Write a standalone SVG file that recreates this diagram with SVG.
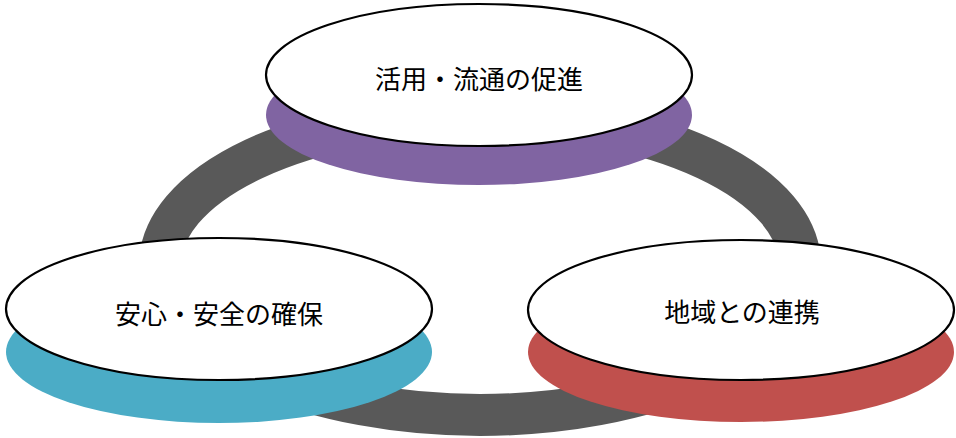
<svg xmlns="http://www.w3.org/2000/svg" width="956" height="438" viewBox="0 0 956 438">
  <style>
    .top { fill: #FFFFFF; stroke: #000000; stroke-width: 2.2; }
    .label { font-family: "Noto Sans CJK JP", "Noto Sans", sans-serif; font-size: 26px; fill: #000000; text-anchor: middle; dominant-baseline: central; }
    .ring { fill: none; stroke: #595959; stroke-width: 42; }
  </style>
  <rect width="956" height="438" fill="#FFFFFF"/>
  <g id="connectors">
    <ellipse class="ring" cx="480" cy="265" rx="320" ry="150"/>
  </g>
  <g id="node-top">
    <ellipse cx="479" cy="115" rx="213" ry="70" fill="#8064A2"/>
    <ellipse class="top" cx="479" cy="75" rx="213" ry="71"/>
    <text class="label" x="479" y="77">活用・流通の促進</text>
  </g>
  <g id="node-left">
    <ellipse cx="219" cy="352" rx="213" ry="71" fill="#4BACC6"/>
    <ellipse class="top" cx="219" cy="309" rx="213" ry="71"/>
    <text class="label" x="219" y="312">安心・安全の確保</text>
  </g>
  <g id="node-right">
    <ellipse cx="741" cy="352" rx="213" ry="70" fill="#C0504D"/>
    <ellipse class="top" cx="741" cy="310" rx="213" ry="70"/>
    <text class="label" x="742" y="310">地域との連携</text>
  </g>
</svg>
